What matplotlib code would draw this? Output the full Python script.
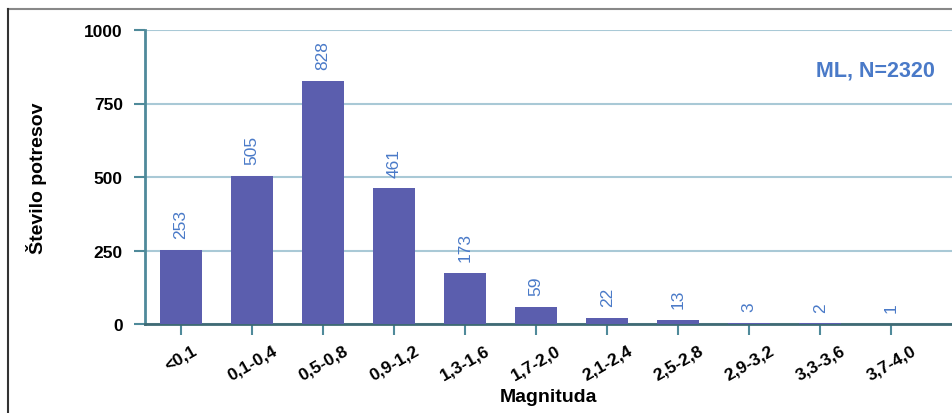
import matplotlib.pyplot as plt
from matplotlib.lines import Line2D

categories = ["<0,1", "0,1-0,4", "0,5-0,8", "0,9-1,2", "1,3-1,6", "1,7-2,0",
              "2,1-2,4", "2,5-2,8", "2,9-3,2", "3,3-3,6", "3,7-4,0"]
counts = [253, 505, 828, 461, 173, 59, 22, 13, 3, 2, 1]
y_ticks = [0, 250, 500, 750, 1000]

plt.rcParams["font.family"] = ["Liberation Sans", "DejaVu Sans"]

bar_color = "#5b5eae"
label_color = "#4a7ac8"
spine_color = "#4f8a9a"
grid_color = "#a9c9d6"

fig = plt.figure(figsize=(9.53, 4.14), dpi=100)
ax = fig.add_axes([145 / 953, 1 - 325 / 414, 1 - 145 / 953, 294 / 414])

x = range(len(categories))
ax.bar(x, counts, width=0.6, color=bar_color, zorder=3)

for i, v in zip(x, counts):
    ax.text(i, v + 40, str(v), rotation=90, ha="center", va="bottom",
            color=label_color, fontsize=12.5, zorder=4)

ax.set_ylim(0, 1000)
ax.set_xlim(-0.507, 10.87)
ax.set_yticks(y_ticks)
ax.set_yticklabels([str(t) for t in y_ticks], fontsize=12.5, fontweight="bold")
ax.set_xticks(list(x))
ax.set_xticklabels(categories, rotation=30, ha="center",
                   fontsize=12.5, fontweight="bold")

ax.yaxis.grid(True, color=grid_color, linewidth=1.5, zorder=0)
ax.spines["top"].set_visible(False)
ax.spines["right"].set_visible(False)
ax.spines["left"].set_color(spine_color)
ax.spines["left"].set_linewidth(2)
ax.spines["bottom"].set_color("#3f6a74")
ax.spines["bottom"].set_linewidth(2)
ax.tick_params(axis="y", color=spine_color, length=8, width=1.5, pad=8)
ax.tick_params(axis="x", color=spine_color, length=8, width=1.5, pad=5)

ax.set_ylabel("Število potresov", fontsize=14, fontweight="bold", labelpad=27)
ax.set_xlabel("Magnituda", fontsize=14, fontweight="bold", labelpad=4)

ax.text(0.978, 0.865, "ML, N=2320", transform=ax.transAxes, ha="right",
        va="center", color=label_color, fontsize=15.5, fontweight="bold")

# outer frame of the original figure
fig.add_artist(Line2D([8 / 953, 1], [1 - 10 / 414] * 2, color="#888888",
                      linewidth=1.5, transform=fig.transFigure))
fig.add_artist(Line2D([8 / 953] * 2, [0, 1 - 10 / 414], color="#333333",
                      linewidth=1.5, transform=fig.transFigure))

fig.savefig("out.png", dpi=100)
